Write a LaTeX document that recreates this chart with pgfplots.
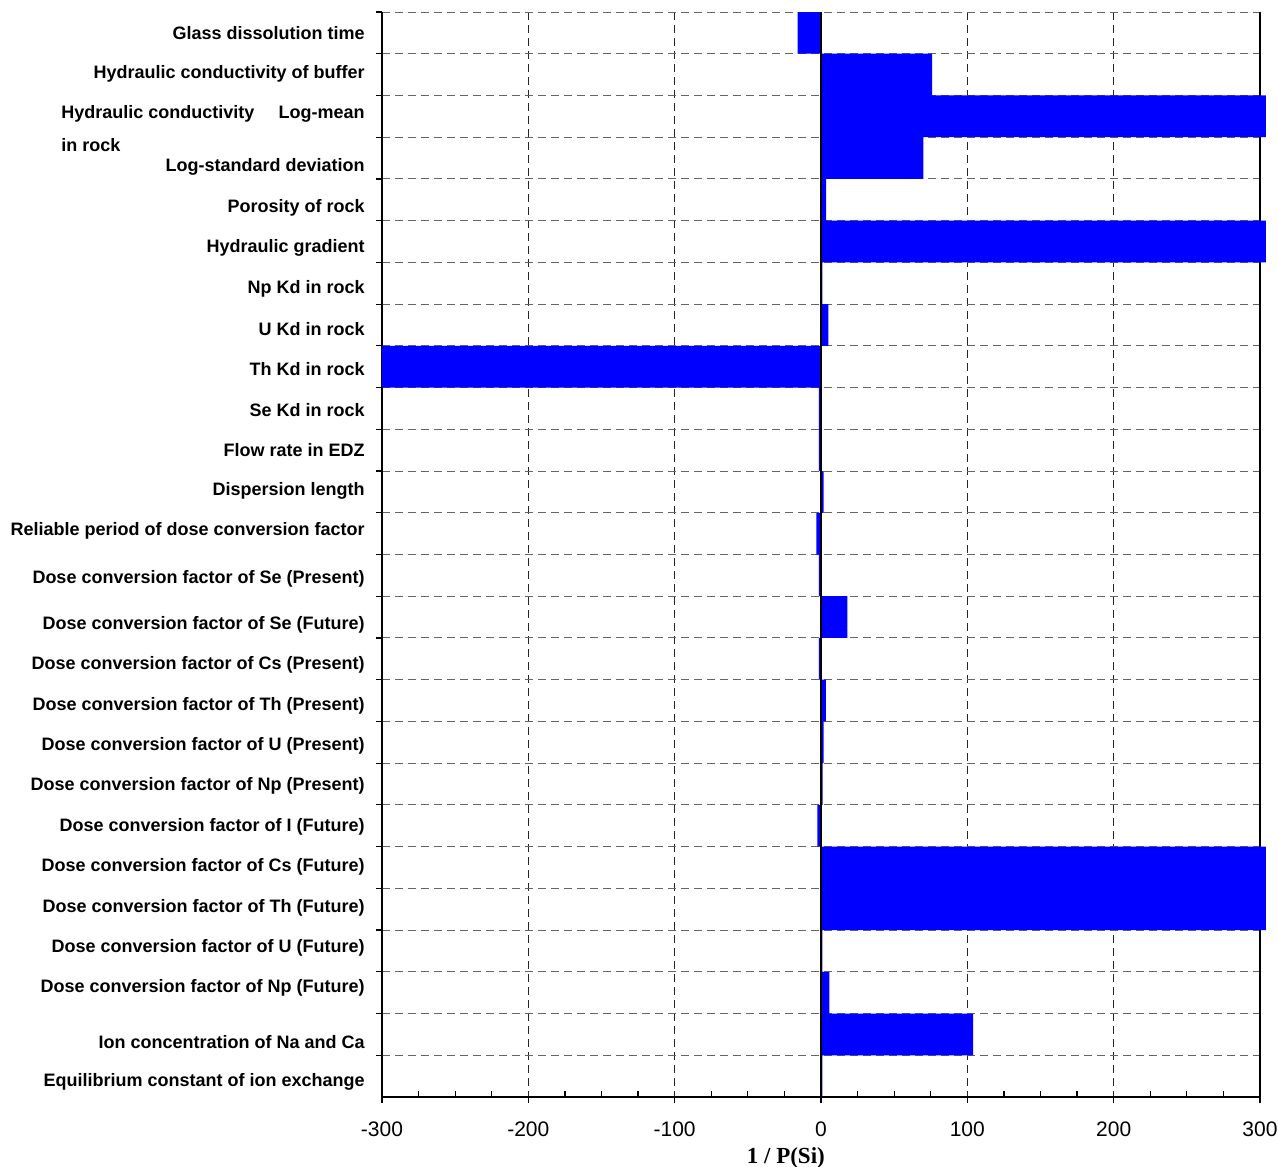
\documentclass[border=0pt]{standalone}
\usepackage{pgfplots}
\pgfplotsset{compat=1.18}
\usepackage{fontspec}
\setmainfont{Liberation Sans}
\newfontfamily\timesfont{Liberation Serif}
\definecolor{barblue}{RGB}{0,0,255}
\begin{document}
\begin{tikzpicture}
\begin{axis}[
 at={(0,0)}, anchor=south west,
 scale only axis, width=439pt, height=542.5pt,
 xmin=-300, xmax=300, ymin=0.5, ymax=26.5, y dir=reverse,
 axis x line*=bottom,
 ytick pos=left,
 clip=false,
 xbar, bar width=1,
 axis line style={line width=1.2pt, black},
 tick style={black, line width=0.6pt},
 tick align=outside,
 major tick length=3pt,
 xtick={-300,-200,...,300},
 xticklabels={{-300},{-200},{-100},0,100,200,300},
 xticklabel style={font=\fontsize{10.5}{12}\selectfont, inner sep=0pt, yshift=-9pt},
 xmajorgrids,
 x grid style={dashed, dash pattern=on 4pt off 2.5pt, black!85, line width=0.5pt},
 ytick={0.5,1.5,...,25.5},
 yticklabels={},
 ymajorgrids,
 y grid style={dash pattern=on 4pt off 2.5pt, black!60, line width=0.5pt},
 extra x ticks={-275,-250,-225,-175,-150,-125,-75,-50,-25,25,50,75,125,150,175,225,250,275},
 extra x tick labels={},
 extra x tick style={tick align=inside, grid=none, major tick length=3pt},
 extra y ticks={0.955,1.94,2.90,4.17,5.15,6.11,7.09,8.05,9.0,9.99,10.95,11.93,12.89,14.04,15.14,16.1,17.08,18.04,19.0,19.98,20.94,21.92,22.88,23.84,25.13,26.09},
 extra y tick labels={
  {Glass dissolution time},
  {Hydraulic conductivity of buffer},
  {Log-mean},
  {Log-standard deviation},
  {Porosity of rock},
  {Hydraulic gradient},
  {Np Kd in rock},
  {U Kd in rock},
  {Th Kd in rock},
  {Se Kd in rock},
  {Flow rate in EDZ},
  {Dispersion length},
  {Reliable period of dose conversion factor},
  {Dose conversion factor of Se (Present)},
  {Dose conversion factor of Se (Future)},
  {Dose conversion factor of Cs (Present)},
  {Dose conversion factor of Th (Present)},
  {Dose conversion factor of U (Present)},
  {Dose conversion factor of Np (Present)},
  {Dose conversion factor of I (Future)},
  {Dose conversion factor of Cs (Future)},
  {Dose conversion factor of Th (Future)},
  {Dose conversion factor of U (Future)},
  {Dose conversion factor of Np (Future)},
  {Ion concentration of Na and Ca},
  {Equilibrium constant of ion exchange}},
 extra y tick style={major tick length=0pt, grid=none,
   yticklabel style={font=\fontsize{9}{10}\selectfont\bfseries, inner sep=0pt, xshift=-8.5pt, yshift=-1pt}},
 xlabel={1 / P(Si)},
 xlabel style={font=\timesfont\bfseries\fontsize{11.5}{13}\selectfont, at={(rel axis cs:0.46,0)}, anchor=base, yshift=-33pt},
]
\addplot[fill=barblue, draw=none] coordinates {
 (-16,1) (76,2) (304,3) (70,4) (3.5,5) (304,6) (1,7) (5,8) (-300,9)
 (-1.5,10) (-1.5,11) (1.8,12) (-3.2,13) (-1.5,14) (18,15) (-1.5,16)
 (3.4,17) (1.8,18) (1.1,19) (-2.5,20) (304,21) (304,22) (1,23) (5.7,24)
 (104,25) (1,26)
};
\draw[black, line width=0.6pt] (axis cs:0,0.5) -- (axis cs:0,26.5);
\end{axis}
\node[anchor=west, inner sep=0pt, font=\fontsize{9}{10}\selectfont\bfseries] at (-160.5pt,491.5pt) {Hydraulic conductivity};
\node[anchor=west, inner sep=0pt, font=\fontsize{9}{10}\selectfont\bfseries] at (-160.5pt,476pt) {in rock};
\pgfresetboundingbox
\useasboundingbox (-191pt,-34.5pt) rectangle (448pt,548.5pt);
\end{tikzpicture}
\end{document}
